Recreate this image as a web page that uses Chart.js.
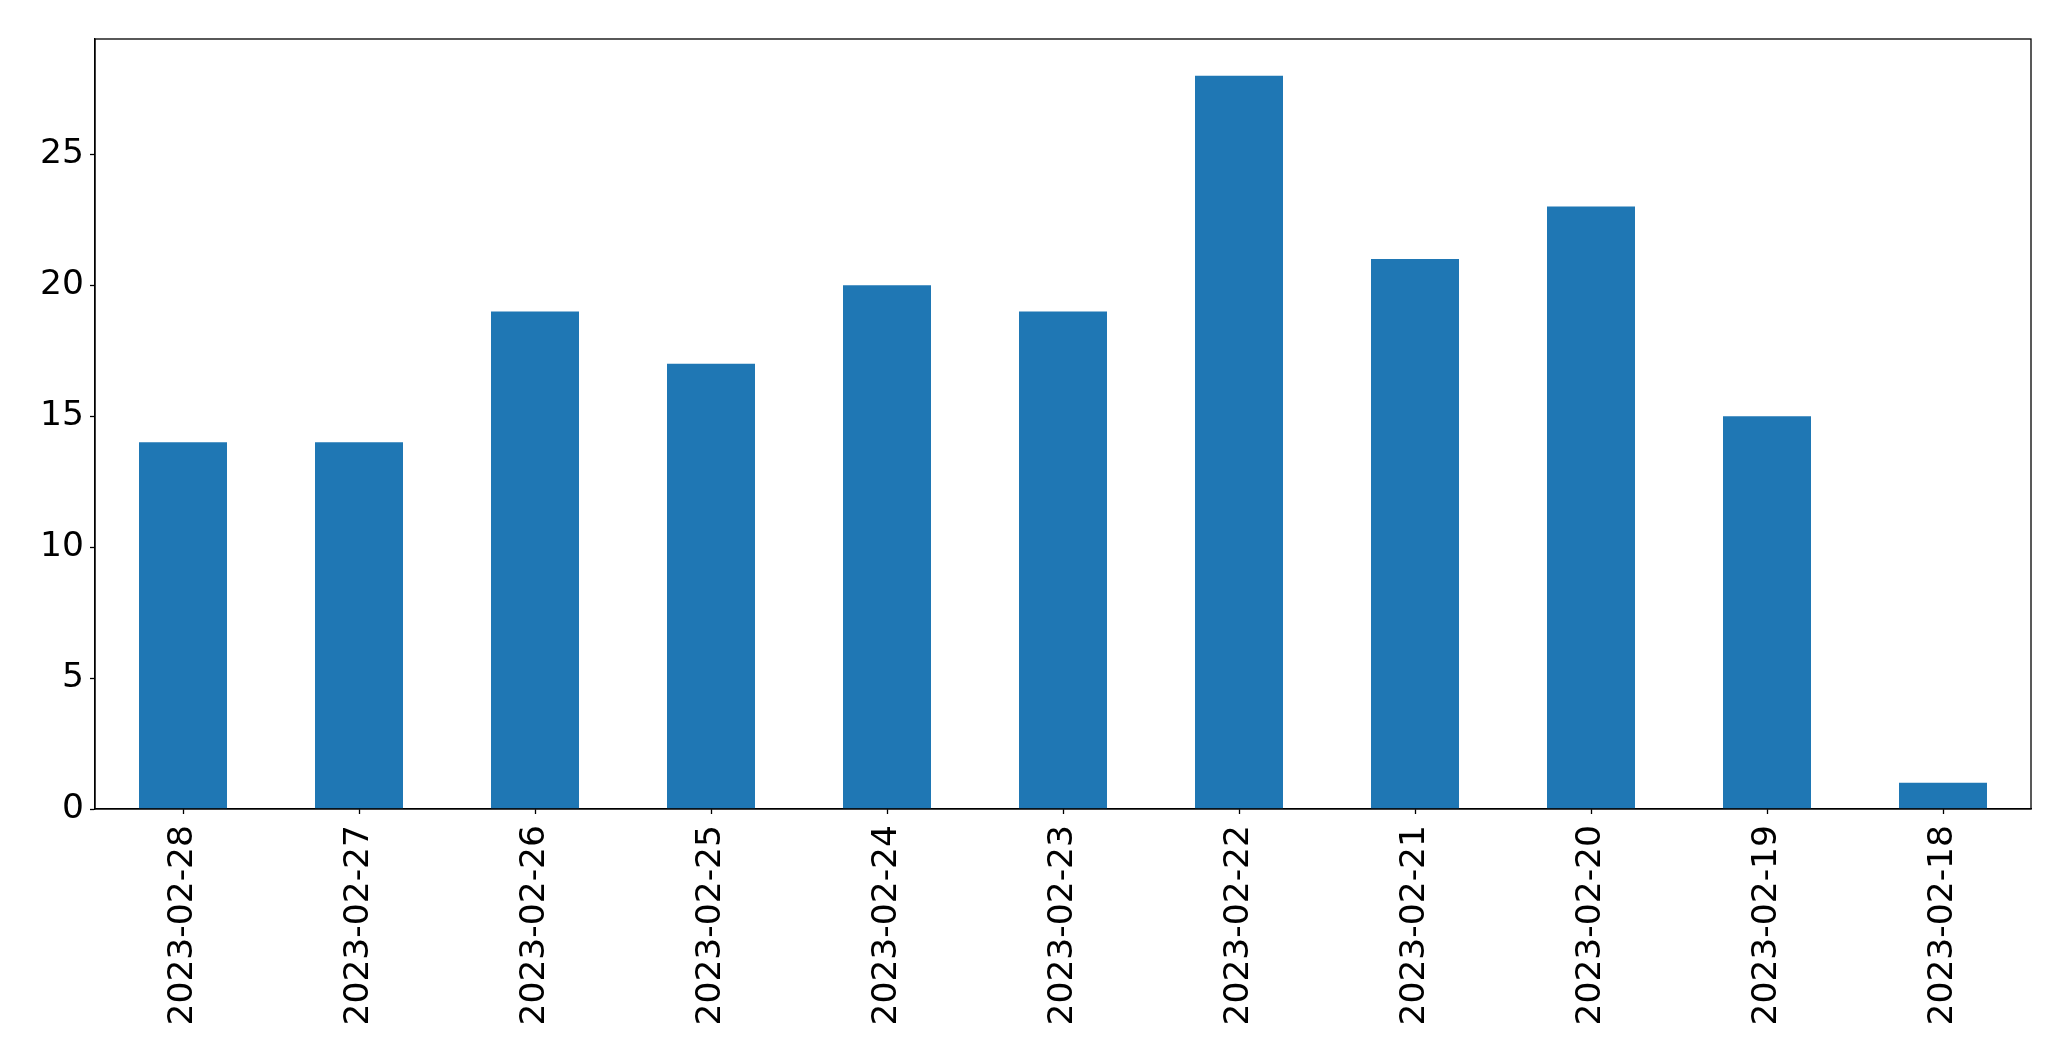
<!DOCTYPE html>
<html>
<head>
<meta charset="utf-8">
<script src="https://cdn.jsdelivr.net/npm/chart.js@4/dist/chart.umd.min.js"></script>
<style>
html,body{margin:0;padding:0;background:#fff;}
#wrap{width:2071px;height:1061px;position:relative;}
</style>
</head>
<body>
<div id="wrap"><canvas id="c" width="2071" height="1061"></canvas></div>
<script>
const categories = ["2023-02-28","2023-02-27","2023-02-26","2023-02-25","2023-02-24","2023-02-23","2023-02-22","2023-02-21","2023-02-20","2023-02-19","2023-02-18"];
const values = [14,14,19,17,20,19,28,21,23,15,1];
const yMax = 29.4;
const yStep = 5;

const frame = {
  id: 'frame',
  afterDatasetsDraw(chart) {
    const a = chart.chartArea, ctx = chart.ctx;
    ctx.save();
    ctx.strokeStyle = '#000';
    ctx.lineWidth = 1.3;
    ctx.strokeRect(a.left, a.top, a.right - a.left, a.bottom - a.top);
    ctx.restore();
  }
};

new Chart(document.getElementById('c'), {
  type: 'bar',
  data: {
    labels: categories,
    datasets: [{
      data: values,
      backgroundColor: '#1f77b4',
      borderWidth: 0,
      categoryPercentage: 1.0,
      barPercentage: 0.5
    }]
  },
  options: {
    responsive: false,
    animation: false,
    devicePixelRatio: 1,
    layout: { padding: { left: 0, right: 40, top: 39, bottom: 0 } },
    plugins: { legend: { display: false }, tooltip: { enabled: false } },
    scales: {
      x: {
        offset: true,
        grid: { display: true, offset: false, drawOnChartArea: false, drawTicks: true, tickLength: 5, tickColor: '#000', tickWidth: 1.3 },
        border: { display: true, color: '#000', width: 1.3 },
        ticks: { color: '#000', font: { family: 'DejaVu Sans', size: 34.5 }, minRotation: 90, maxRotation: 90, padding: 11, autoSkip: false },
        afterFit(s) { s.height = 252; }
      },
      y: {
        min: 0, max: yMax,
        grid: { display: true, drawOnChartArea: false, drawTicks: true, tickLength: 5, tickColor: '#000', tickWidth: 1.3 },
        border: { display: true, color: '#000', width: 1.3 },
        ticks: { color: '#000', font: { family: 'DejaVu Sans', size: 34.5 }, stepSize: yStep, includeBounds: false, padding: 6 },
        afterFit(s) { s.width = 95; }
      }
    }
  },
  plugins: [frame]
});
</script>
</body>
</html>
